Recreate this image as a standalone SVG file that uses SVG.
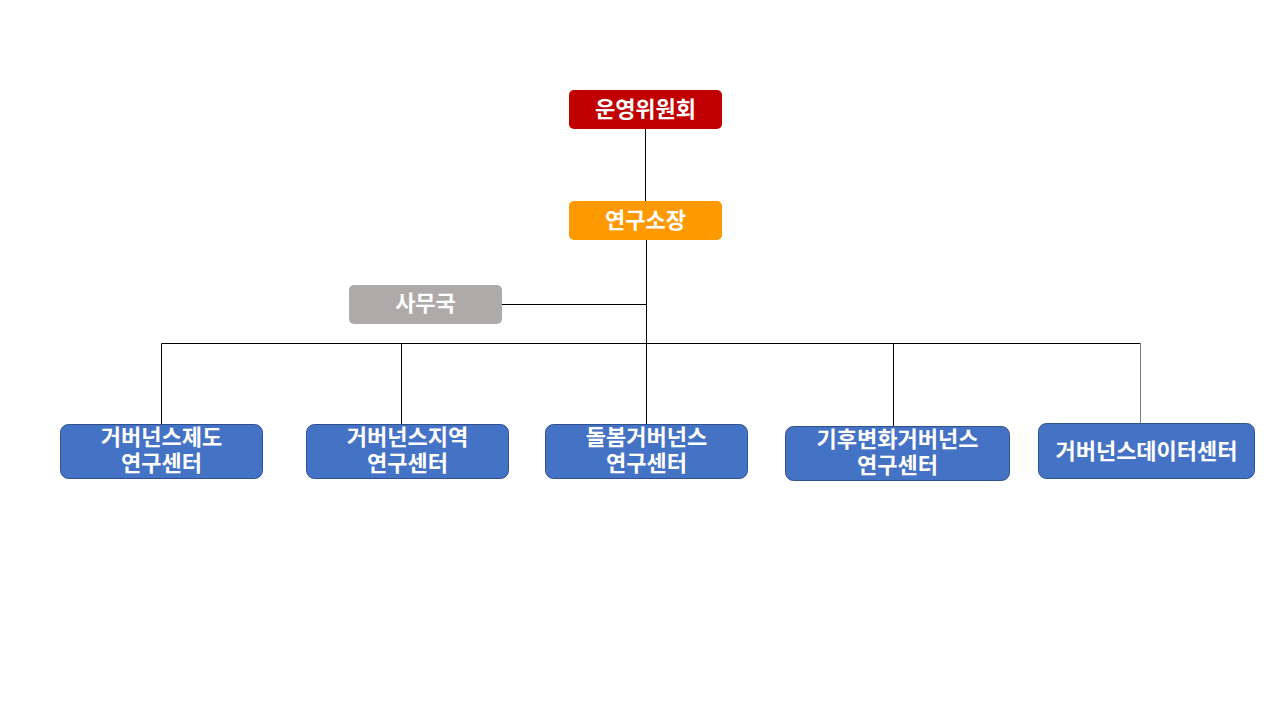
<svg xmlns="http://www.w3.org/2000/svg" width="1280" height="720" viewBox="0 0 1280 720">
<style>
.t{font-family:"Noto Sans CJK KR","Noto Sans",sans-serif;font-weight:bold;font-size:22px;fill:#ffffff;text-anchor:middle}
.c{stroke:#000000;stroke-width:1;fill:none}
.b{fill:#4472C4;stroke:#2F528F;stroke-width:1}
</style>
<rect width="1280" height="720" fill="#ffffff"/>
<g id="connectors">
<line class="c" x1="645.5" y1="129" x2="645.5" y2="201"/>
<line class="c" x1="646.5" y1="240" x2="646.5" y2="424"/>
<line class="c" x1="502" y1="304.5" x2="646.5" y2="304.5"/>
<line class="c" x1="161.5" y1="343.5" x2="1140.5" y2="343.5"/>
<line class="c" x1="161.5" y1="343.5" x2="161.5" y2="424"/>
<line class="c" x1="401.5" y1="343.5" x2="401.5" y2="424"/>
<line class="c" x1="893.5" y1="343.5" x2="893.5" y2="426"/>
<line x1="1140.5" y1="343.5" x2="1140.5" y2="423" stroke="#808080" stroke-width="1"/>
</g>
<g id="n-committee">
<rect x="569" y="90" width="153" height="39" rx="5" fill="#C00000"/>
<text class="t" x="645.5" y="117">운영위원회</text>
</g>
<g id="n-director">
<rect x="569" y="201" width="153" height="39" rx="5" fill="#FF9900"/>
<text class="t" x="645.5" y="228">연구소장</text>
</g>
<g id="n-office">
<rect x="349" y="285" width="153" height="39" rx="5" fill="#AEAAAA"/>
<text class="t" x="425.5" y="311">사무국</text>
</g>
<g id="n-c1">
<rect class="b" x="60.5" y="424.5" width="202" height="54" rx="8"/>
<text class="t" x="161.5" y="445">거버넌스제도</text>
<text class="t" x="161.5" y="471">연구센터</text>
</g>
<g id="n-c2">
<rect class="b" x="306.5" y="424.5" width="202" height="54" rx="8"/>
<text class="t" x="407.5" y="445">거버넌스지역</text>
<text class="t" x="407.5" y="471">연구센터</text>
</g>
<g id="n-c3">
<rect class="b" x="545.5" y="424.5" width="202" height="54" rx="8"/>
<text class="t" x="646.5" y="445">돌봄거버넌스</text>
<text class="t" x="646.5" y="471">연구센터</text>
</g>
<g id="n-c4">
<rect class="b" x="785.5" y="426.5" width="224" height="54" rx="8"/>
<text class="t" x="897.5" y="447">기후변화거버넌스</text>
<text class="t" x="897.5" y="473">연구센터</text>
</g>
<g id="n-c5">
<rect class="b" x="1038.5" y="423.5" width="216" height="55" rx="8"/>
<text class="t" x="1146.5" y="459">거버넌스데이터센터</text>
</g>
</svg>
